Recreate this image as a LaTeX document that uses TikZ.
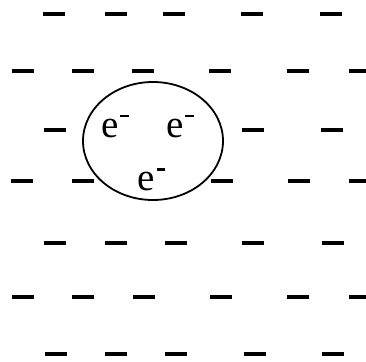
\documentclass[tikz,border=0pt]{standalone}
\usepackage{fontspec}
\setmainfont{Liberation Serif}
\newcommand{\elsym}{e\kern1.5pt\raisebox{20pt}{\rule{8.5pt}{2.4pt}}}
\begin{document}
\begin{tikzpicture}[x=1pt,y=-1pt,
  bar/.style={line width=3.2pt},
  elec/.style={inner sep=0pt,anchor=base west,font=\fontsize{39}{42}\selectfont}]
\useasboundingbox (0,0) rectangle (366,361);
\def\dl{11}
% rows of dashes
\foreach \x in {54,115.5,174,251.5,331} \draw[bar] (\x-\dl,14) -- (\x+\dl,14);
\foreach \x in {22.5,82.5,143,220,297.5,360} \draw[bar] (\x-\dl,71) -- (\x+\dl,71);
\foreach \x in {54.5,252.5,332} \draw[bar] (\x-\dl,130) -- (\x+\dl,130);
\foreach \x in {22,82.5,221.5,298.5,360} \draw[bar] (\x-\dl,181) -- (\x+\dl,181);
\foreach \x in {55,116,176,253,333} \draw[bar] (\x-\dl,243) -- (\x+\dl,243);
\foreach \x in {22.5,83,144,221,298,360} \draw[bar] (\x-\dl,297) -- (\x+\dl,297);
\foreach \x in {55.5,116,176,254.5,333} \draw[bar] (\x-\dl,354) -- (\x+\dl,354);
% droplet
\draw[line width=1.8pt] (153,141) ellipse [x radius=70, y radius=59];
\node[elec] (e1) at (101,137) {\elsym};
\node[elec] (e2) at (166,137) {\elsym};
\node[elec] (e3) at (137.5,190.5) {\elsym};
\end{tikzpicture}
\end{document}
